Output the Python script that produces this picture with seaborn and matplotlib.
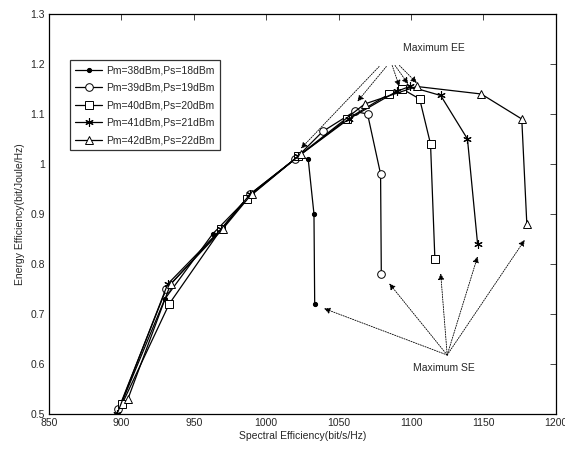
import matplotlib
matplotlib.use("Agg")
import matplotlib.pyplot as plt
import seaborn as sns
import pandas as pd

sns.set_style("white")
plt.rcParams['font.family'] = ['Liberation Sans', 'DejaVu Sans']

labels = ["Pm=38dBm,Ps=18dBm", "Pm=39dBm,Ps=19dBm", "Pm=40dBm,Ps=20dBm",
          "Pm=41dBm,Ps=21dBm", "Pm=42dBm,Ps=22dBm"]

se_38 = [897, 930, 963, 990, 1022, 1029, 1033, 1033.5]
ee_38 = [0.50, 0.73, 0.86, 0.94, 1.015, 1.01, 0.90, 0.72]

se_39 = [898, 931, 969, 989, 1020, 1039, 1061, 1070, 1079, 1079.5]
ee_39 = [0.51, 0.75, 0.87, 0.94, 1.01, 1.065, 1.105, 1.10, 0.98, 0.78]

se_40 = [900.5, 933, 969, 986.5, 1022, 1056, 1085, 1094, 1106, 1113.5, 1116.5]
ee_40 = [0.52, 0.72, 0.87, 0.93, 1.015, 1.09, 1.14, 1.15, 1.13, 1.04, 0.81]

se_41 = [897, 932, 969, 989, 1022, 1057, 1090, 1099, 1120.5, 1139, 1146]
ee_41 = [0.50, 0.76, 0.87, 0.94, 1.015, 1.09, 1.145, 1.155, 1.137, 1.05, 0.84]

se_42 = [904.5, 934, 970, 990, 1024, 1068, 1104, 1148.5, 1176.5, 1180]
ee_42 = [0.53, 0.76, 0.87, 0.94, 1.02, 1.12, 1.155, 1.14, 1.09, 0.88]

ses = [se_38, se_39, se_40, se_41, se_42]
ees = [ee_38, ee_39, ee_40, ee_41, ee_42]

rows = []
for lab, s, e in zip(labels, ses, ees):
    for i, (a, b) in enumerate(zip(s, e)):
        rows.append({"series": lab, "SE": a, "EE": b, "idx": i})
df = pd.DataFrame(rows)

fig = plt.figure(figsize=(5.65, 4.51), dpi=100)
ax = fig.add_axes([0.0867, 0.082, 0.897, 0.887])

marker_specs = [
    dict(marker='o', markersize=3, markerfacecolor='black', markeredgecolor='black'),
    dict(marker='o', markersize=5.5, markerfacecolor='white', markeredgecolor='black', markeredgewidth=0.7),
    dict(marker='s', markersize=5.5, markerfacecolor='white', markeredgecolor='black', markeredgewidth=0.7),
    dict(marker=(6, 2, 0), markersize=6, markerfacecolor='black', markeredgecolor='black', markeredgewidth=0.8),
    dict(marker='^', markersize=6, markerfacecolor='white', markeredgecolor='black', markeredgewidth=0.7),
]

for lab, ms in zip(labels, marker_specs):
    sub = df[df["series"] == lab]
    sns.lineplot(data=sub, x="SE", y="EE", sort=False, estimator=None, ax=ax,
                 color='black', linewidth=0.9, label=lab, **ms)

ax.set_xlim(850, 1200)
ax.set_ylim(0.5, 1.3)
ax.set_xticks([850, 900, 950, 1000, 1050, 1100, 1150, 1200])
ax.set_yticks([0.5, 0.6, 0.7, 0.8, 0.9, 1.0, 1.1, 1.2, 1.3])
ax.set_yticklabels(["0.5", "0.6", "0.7", "0.8", "0.9", "1", "1.1", "1.2", "1.3"])
ax.tick_params(direction='in', length=4, width=0.6, labelsize=7.5, top=True, right=True,
               labeltop=False, labelright=False, pad=3)
for sp in ax.spines.values():
    sp.set_visible(True)
    sp.set_color('black')
    sp.set_linewidth(0.9)
ax.set_xlabel("Spectral Efficiency(bit/s/Hz)", fontsize=7.5, labelpad=2)
ax.set_ylabel("Energy Efficiency(bit/Joule/Hz)", fontsize=7.5, labelpad=4)

leg = ax.legend(loc='upper left', bbox_to_anchor=(0.041, 0.885), fontsize=7.5, frameon=True,
                fancybox=False, edgecolor='black', handlelength=2.6, borderpad=0.5,
                labelspacing=0.72, handletextpad=0.4, borderaxespad=0)
leg.get_frame().set_linewidth(0.9)

# annotations
ax.text(1116, 1.232, "Maximum EE", fontsize=7.5, ha='center', va='center')
ee_starts = [(1078, 1.195), (1083, 1.195), (1087, 1.197), (1089, 1.197), (1092, 1.197)]
ee_tips = [(1024, 1.031), (1063, 1.125), (1092, 1.155), (1098, 1.160), (1104, 1.162)]
for (sx, sy), (tx, ty) in zip(ee_starts, ee_tips):
    ax.annotate("", xy=(tx, ty), xytext=(sx, sy),
                arrowprops=dict(arrowstyle='-|>', linestyle=(0, (1.5, 1.5)), lw=0.6,
                                color='black', mutation_scale=9, shrinkA=0, shrinkB=0))

ax.text(1123, 0.592, "Maximum SE", fontsize=7.5, ha='center', va='center')
se_start = (1125, 0.618)
se_tips = [(1040, 0.711), (1085, 0.761), (1120.5, 0.781), (1146, 0.815), (1178.5, 0.848)]
for (tx, ty) in se_tips:
    ax.annotate("", xy=(tx, ty), xytext=se_start,
                arrowprops=dict(arrowstyle='-|>', linestyle=(0, (1.5, 1.5)), lw=0.6,
                                color='black', mutation_scale=9, shrinkA=0, shrinkB=0))

fig.savefig("out.png", dpi=100)
